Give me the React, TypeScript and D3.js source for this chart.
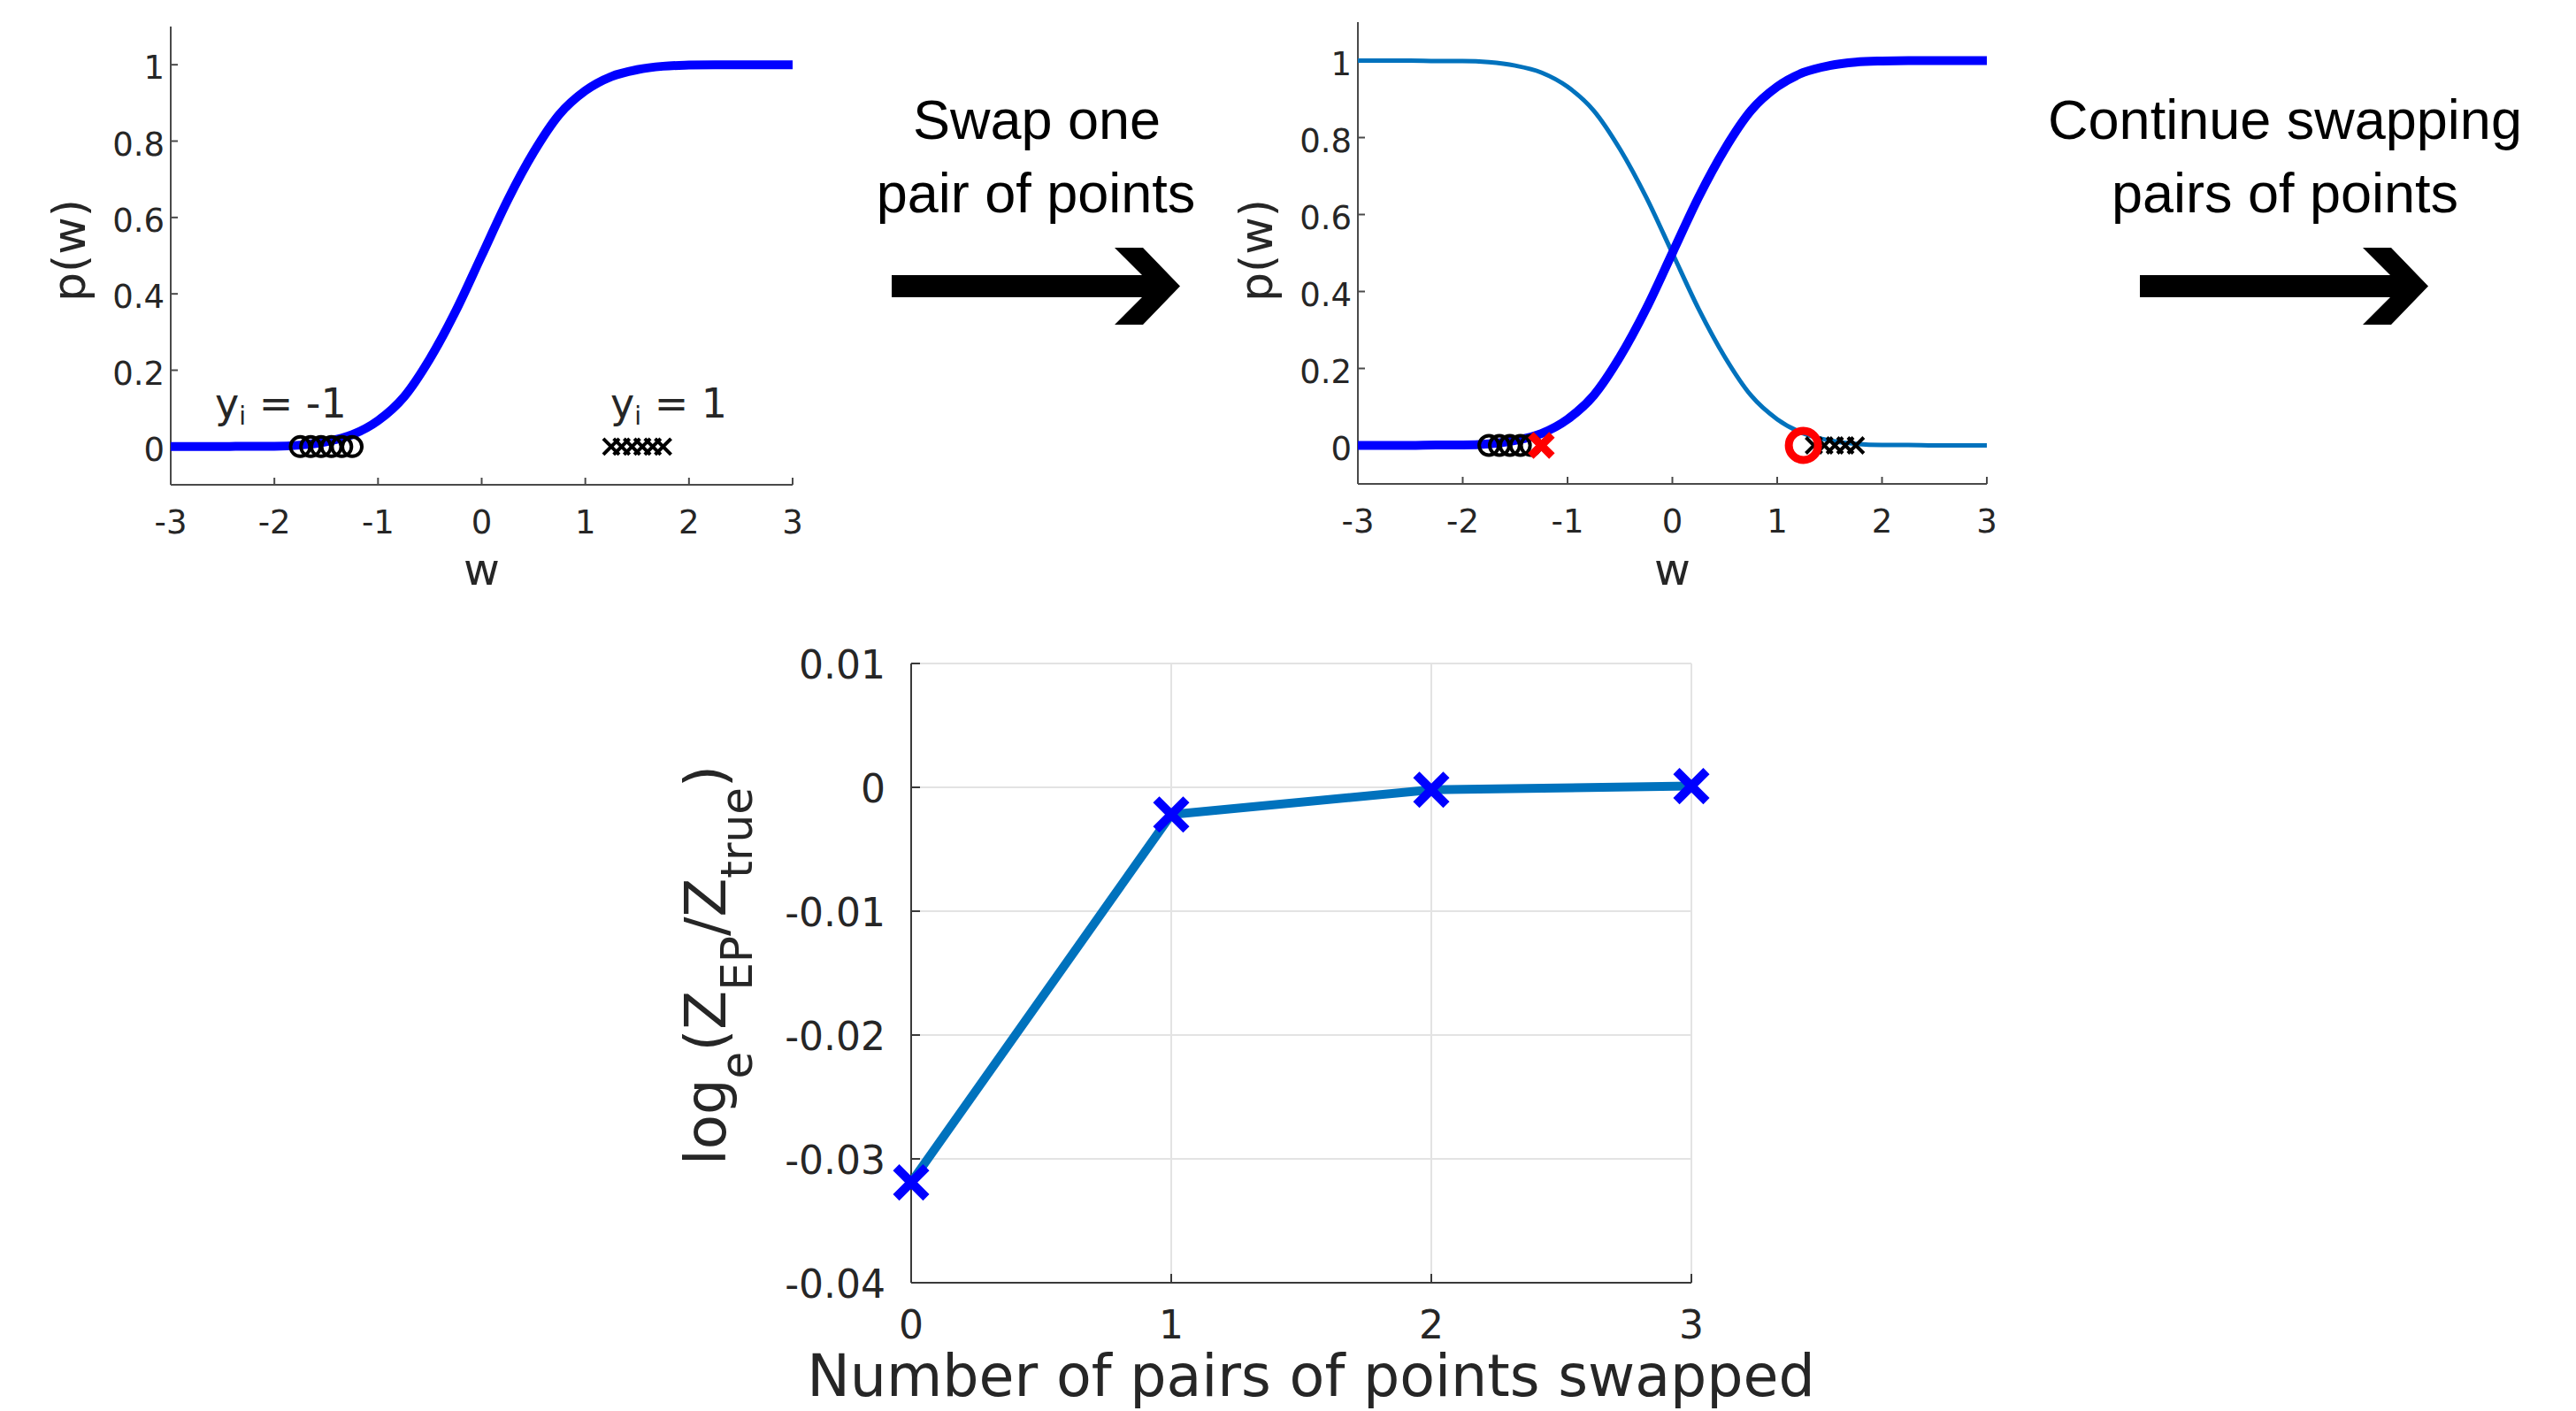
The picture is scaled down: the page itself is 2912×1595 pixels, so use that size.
import * as d3 from 'd3';

const wSamples = [-3, -2.75, -2.5, -2.25, -2, -1.75, -1.5, -1.25, -1, -0.75, -0.5, -0.25, 0, 0.25, 0.5, 0.75, 1, 1.25, 1.5, 1.75, 2, 2.25, 2.5, 2.75, 3];
const pIncreasing = [0, 0, 0, 0.001, 0.001, 0.004, 0.013, 0.031, 0.068, 0.13, 0.23, 0.355, 0.5, 0.645, 0.77, 0.87, 0.932, 0.969, 0.987, 0.996, 0.999, 1, 1, 1, 1];
// thin curve of the second panel
const pDecreasing = [1, 1, 1, 0.999, 0.999, 0.996, 0.987, 0.969, 0.932, 0.87, 0.77, 0.645, 0.5, 0.355, 0.23, 0.13, 0.068, 0.031, 0.013, 0.004, 0.001, 0.001, 0, 0, 0];

// data points (y = 0)
const negBefore = [-1.75, -1.65, -1.55, -1.45, -1.35, -1.25];
const posBefore = [1.25, 1.35, 1.45, 1.55, 1.65, 1.75];
const negAfter = [-1.75, -1.65, -1.55, -1.45, -1.35];
const posAfter = [1.35, 1.45, 1.55, 1.65, 1.75];
const swappedToPos = [-1.25];
const swappedToNeg = [1.25];

// bottom chart
const pairsSwapped = [0, 1, 2, 3];
const logRatio = [-0.0319, -0.0022, -0.0002, 0.0001];

const wTicks = [-3, -2, -1, 0, 1, 2, 3];
const pTicks = [0, 0.2, 0.4, 0.6, 0.8, 1];
const ratioTicks = [-0.04, -0.03, -0.02, -0.01, 0, 0.01];

const AX = '#262626';
const FONT = 'DejaVu Sans';
const TICK_FONT = 37;

const xMark = (a: number) => `M${-a},${-a}L${a},${a}M${-a},${a}L${a},${-a}`;

function arrowPath(x0: number, tip: number, cy: number) {
  const pts: [number, number][] = [
    [x0, cy - 12.5], [tip - 43, cy - 12.5], [tip - 74, cy - 43.5], [tip - 42, cy - 43.5], [tip, cy],
    [tip - 42, cy + 43.5], [tip - 74, cy + 43.5], [tip - 43, cy + 12.5], [x0, cy + 12.5],
  ];
  return 'M' + pts.map((p) => p.join(',')).join('L') + 'Z';
}

function SigmoidPanel({ left, right, top, bottom, swapped }: { left: number; right: number; top: number; bottom: number; swapped: boolean }) {
  const x = d3.scaleLinear().domain([-3, 3]).range([left, right]);
  const y = d3.scaleLinear().domain([-0.1, 1.1]).range([bottom, top]);
  const line = d3
    .line<number>()
    .x((_, i) => x(wSamples[i]))
    .y((d) => y(d))
    .curve(d3.curveMonotoneX);

  const negs = swapped ? negAfter : negBefore;
  const poss = swapped ? posAfter : posBefore;

  return (
    <g>
      {/* axes */}
      <line x1={left} x2={left} y1={top} y2={bottom} stroke="#4a4a4a" strokeWidth={2} />
      <line x1={left} x2={right} y1={bottom} y2={bottom} stroke="#4a4a4a" strokeWidth={2} />
      {pTicks.map((t) => (
        <g key={'py' + t}>
          <line x1={left} x2={left + 8} y1={y(t)} y2={y(t)} stroke="#4a4a4a" strokeWidth={2} />
          <text x={left - 7} y={y(t) + 16} textAnchor="end" fontFamily={FONT} fontSize={TICK_FONT} fill={AX}>
            {String(t)}
          </text>
        </g>
      ))}
      {wTicks.map((t) => (
        <g key={'wx' + t}>
          <line x1={x(t)} x2={x(t)} y1={bottom} y2={bottom - 8} stroke="#4a4a4a" strokeWidth={2} />
          <text x={x(t)} y={bottom + 55} textAnchor="middle" fontFamily={FONT} fontSize={TICK_FONT} fill={AX}>
            {String(t)}
          </text>
        </g>
      ))}
      <text x={(left + right) / 2} y={661} textAnchor="middle" fontFamily={FONT} fontSize={50} fill={AX}>
        w
      </text>
      <text transform={`translate(${left - 97},283) rotate(-90)`} textAnchor="middle" fontFamily={FONT} fontSize={52} fill={AX}>
        p(w)
      </text>

      {/* curves */}
      {swapped && <path d={line(pDecreasing) || ''} fill="none" stroke="#0072bd" strokeWidth={5} />}
      <path d={line(pIncreasing) || ''} fill="none" stroke="#0000ff" strokeWidth={10} />

      {/* points */}
      {negs.map((w, i) => (
        <circle key={'c' + i} cx={x(w)} cy={y(0)} r={11} fill="none" stroke="#000" strokeWidth={4} />
      ))}
      {poss.map((w, i) => (
        <path key={'x' + i} d={xMark(9)} transform={`translate(${x(w)},${y(0)})`} stroke="#000" strokeWidth={4} />
      ))}
      {swapped &&
        swappedToPos.map((w, i) => (
          <path key={'rx' + i} d={xMark(12)} transform={`translate(${x(w)},${y(0)})`} stroke="#ff0000" strokeWidth={9} />
        ))}
      {swapped &&
        swappedToNeg.map((w, i) => (
          <circle key={'rc' + i} cx={x(w)} cy={y(0)} r={16.5} fill="none" stroke="#ff0000" strokeWidth={9} />
        ))}

      {!swapped && (
        <>
          <text x={243} y={472} fontFamily={FONT} fontSize={46} fill={AX}>
            y<tspan fontSize={28} dy={8}>i</tspan>
            <tspan dy={-8}> = -1</tspan>
          </text>
          <text x={690} y={472} fontFamily={FONT} fontSize={46} fill={AX}>
            y<tspan fontSize={28} dy={8}>i</tspan>
            <tspan dy={-8}> = 1</tspan>
          </text>
        </>
      )}
    </g>
  );
}

function RatioChart() {
  const left = 1030;
  const right = 1912;
  const top = 750;
  const bottom = 1450;
  const x = d3.scaleLinear().domain([0, 3]).range([left, right]);
  const y = d3.scaleLinear().domain([-0.04, 0.01]).range([bottom, top]);
  const line = d3
    .line<number>()
    .x((_, i) => x(pairsSwapped[i]))
    .y((d) => y(d));

  return (
    <g>
      {ratioTicks.map((t) => (
        <line key={'gy' + t} x1={left} x2={right} y1={y(t)} y2={y(t)} stroke="#e3e3e3" strokeWidth={2} />
      ))}
      {pairsSwapped.map((t) => (
        <line key={'gx' + t} x1={x(t)} x2={x(t)} y1={top} y2={bottom} stroke="#e3e3e3" strokeWidth={2} />
      ))}
      <line x1={left} x2={left} y1={top} y2={bottom} stroke="#3a3a3a" strokeWidth={2} />
      <line x1={left} x2={right} y1={bottom} y2={bottom} stroke="#3a3a3a" strokeWidth={2} />
      {ratioTicks.map((t) => (
        <g key={'ty' + t}>
          <line x1={left} x2={left + 10} y1={y(t)} y2={y(t)} stroke="#3a3a3a" strokeWidth={2} />
          <text x={1001} y={y(t) + 17} textAnchor="end" fontFamily={FONT} fontSize={44} fill={AX}>
            {String(t)}
          </text>
        </g>
      ))}
      {pairsSwapped.map((t) => (
        <g key={'tx' + t}>
          <line x1={x(t)} x2={x(t)} y1={bottom} y2={bottom - 10} stroke="#3a3a3a" strokeWidth={2} />
          <text x={x(t)} y={1513} textAnchor="middle" fontFamily={FONT} fontSize={44} fill={AX}>
            {String(t)}
          </text>
        </g>
      ))}
      <text x={1482} y={1578} textAnchor="middle" fontFamily={FONT} fontSize={65} fill={AX}>
        Number of pairs of points swapped
      </text>
      <text transform="translate(820,1091) rotate(-90)" textAnchor="middle" fontFamily={FONT} fontSize={64} fill={AX}>
        log<tspan fontSize={50} dy={30}>e</tspan>
        <tspan dy={-30}>(Z</tspan>
        <tspan fontSize={50} dy={30}>EP</tspan>
        <tspan dy={-30}>/Z</tspan>
        <tspan fontSize={50} dy={30}>true</tspan>
        <tspan dy={-30}>)</tspan>
      </text>

      <path d={line(logRatio) || ''} fill="none" stroke="#0072bd" strokeWidth={10} strokeLinejoin="round" />
      {logRatio.map((v, i) => (
        <path key={'m' + i} d={xMark(17)} transform={`translate(${x(pairsSwapped[i])},${y(v)})`} stroke="#0000ff" strokeWidth={10} />
      ))}
    </g>
  );
}

export default function App() {
  return (
    <svg
      width={2912}
      height={1595}
      viewBox="0 0 2912 1595"
      style={{ position: 'absolute', left: 0, top: 0, background: '#fff' }}
    >
      <rect width={2912} height={1595} fill="#fff" />
      <SigmoidPanel left={193} right={896} top={30} bottom={548} swapped={false} />
      <SigmoidPanel left={1535} right={2246} top={25} bottom={547} swapped={true} />

      <g fontFamily="Liberation Sans" fontSize={63} fill="#000" textAnchor="middle">
        <text x={1172} y={157}>Swap one</text>
        <text x={1171} y={240}>pair of points</text>
        <text x={2583} y={157}>Continue swapping</text>
        <text x={2583} y={240}>pairs of points</text>
      </g>
      <path d={arrowPath(1008, 1334, 323.5)} fill="#000" />
      <path d={arrowPath(2419, 2745, 323.5)} fill="#000" />

      <RatioChart />
    </svg>
  );
}
